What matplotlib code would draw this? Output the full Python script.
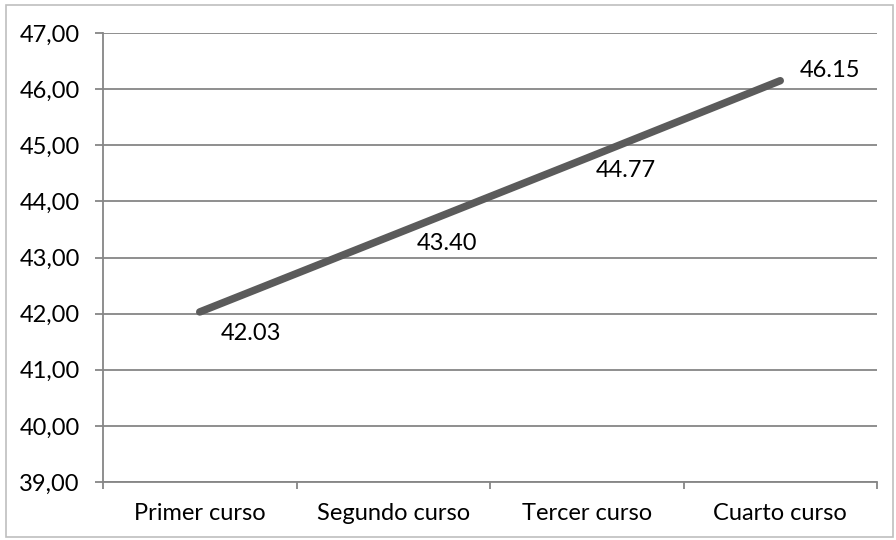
import numpy as np
import matplotlib.pyplot as plt
from matplotlib.patches import Rectangle
from matplotlib.ticker import FixedLocator, FuncFormatter

courses = ["Primer curso", "Segundo curso", "Tercer curso", "Cuarto curso"]
scores = [42.03, 43.40, 44.77, 46.15]
y_ticks = [39, 40, 41, 42, 43, 44, 45, 46, 47]

# label baseline offsets in pixels (dx right, dy down) from each point
label_offsets = [(51, 28), (54, 15), (39, 19), (50, -4)]

plt.rcParams['font.family'] = ['Lato', 'DejaVu Sans']

fig = plt.figure(figsize=(8.96, 5.40), dpi=100)
ax = fig.add_axes([103 / 896, 1 - 482 / 540, 774 / 896, 449 / 540])

grid_col = "#868686"
px = 0.72  # points per pixel at dpi 100
x = np.arange(len(courses))
ax.plot(x, scores, color="#5b5b5b", linewidth=5.4, solid_capstyle="round", zorder=3)

for xi, v, (dx, dy) in zip(x, scores, label_offsets):
    ax.annotate(f"{v:.2f}", (xi, v), xytext=(dx * px, -dy * px), textcoords="offset points",
                ha="center", va="baseline", fontsize=17, color="black")

ax.set_xlim(-0.5, len(courses) - 0.5)
ax.set_ylim(min(y_ticks), max(y_ticks))
ax.set_yticks(y_ticks)
ax.yaxis.set_major_formatter(FuncFormatter(lambda v, p: f"{v:.2f}".replace(".", ",")))
ax.yaxis.grid(True, color=grid_col, linewidth=1.3)
ax.set_axisbelow(True)

ax.set_xticks(x)
ax.set_xticklabels(courses)
ax.xaxis.set_minor_locator(FixedLocator(np.arange(-0.5, len(courses), 1.0)))
ax.tick_params(axis="x", which="major", length=0, pad=15, labelsize=17)
ax.tick_params(axis="x", which="minor", length=5, color=grid_col, width=1.3)
ax.tick_params(axis="y", length=8 * px, color=grid_col, width=1.3, pad=11, labelsize=17)

for s in ["top", "right"]:
    ax.spines[s].set_visible(False)
for s in ["left", "bottom"]:
    ax.spines[s].set_color(grid_col)
    ax.spines[s].set_linewidth(1.3)

fig.patches.append(Rectangle((6 / 896, 3 / 540), 887 / 896, 532 / 540, transform=fig.transFigure,
                             fill=False, edgecolor="#bfbfbf", linewidth=1.2))

fig.savefig("out.png", dpi=100)
